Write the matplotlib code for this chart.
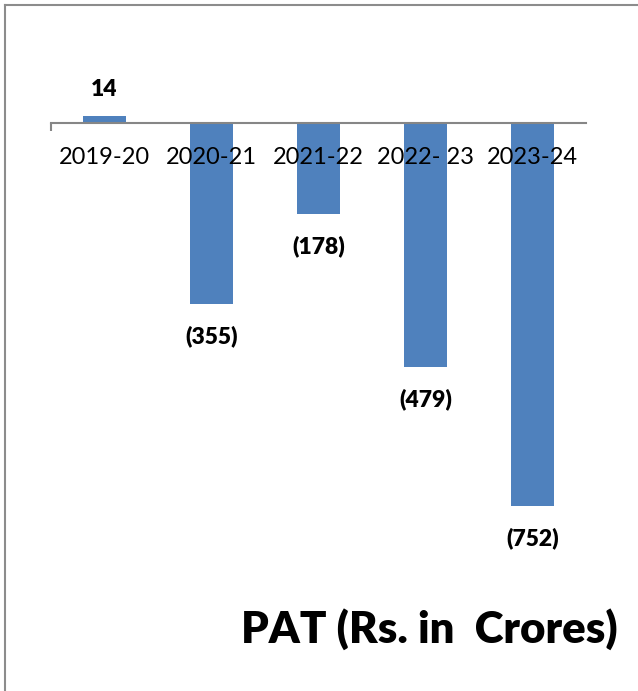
import matplotlib
matplotlib.use("Agg")
import matplotlib.pyplot as plt
from matplotlib.lines import Line2D

years = ["2019-20", "2020-21", "2021-22", "2022- 23", "2023-24"]
pat = [14, -355, -178, -479, -752]
labels = ["14", "(355)", "(178)", "(479)", "(752)"]

plt.rcParams["font.family"] = ["Lato", "DejaVu Sans"]

W, H = 638, 691
fig = plt.figure(figsize=(W / 100, H / 100), dpi=100)

# axes placed in pixel terms: x 51..586, y 30..560 (top-down)
ax = fig.add_axes([51 / W, 1 - 560 / H, 535 / W, 530 / H])
ax.bar(range(len(years)), pat, width=0.4, color="#4F81BD", zorder=1)
ax.set_axisbelow(False)

scale = 0.509  # px per unit
ax.set_ylim(-(560 - 123) / scale, (123 - 30) / scale)
ax.set_xlim(-0.5, len(years) - 0.5)

for s in ["left", "right", "top"]:
    ax.spines[s].set_visible(False)
ax.spines["bottom"].set_position(("data", 0))
ax.spines["bottom"].set_color("#868686")
ax.spines["bottom"].set_linewidth(1.5)
ax.spines["bottom"].set_zorder(3)

ax.set_yticks([])
ax.set_xticks(range(len(years)))
ax.set_xticklabels(years, fontsize=17)
ax.tick_params(axis="x", which="major", length=0, pad=17)
ax.set_xticks([-0.5], minor=True)
ax.tick_params(axis="x", which="minor", length=6, width=1.5, color="#868686", direction="out")

for i, (v, t) in enumerate(zip(pat, labels)):
    off = 19 if v > 0 else -23.5
    ax.annotate(t, (i, v), xytext=(0, off), textcoords="offset points",
                ha="center", va="center", fontsize=16.5, fontweight="heavy")

fig.text(618 / W, 1 - 629 / H, "PAT (Rs. in  Crores)", ha="right", va="center",
         fontsize=31.5, fontweight="heavy")

# outer frame (left and top edges)
fig.add_artist(Line2D([4.5 / W, 4.5 / W], [0, 1 - 4.5 / H], color="#8c8c8c", lw=1.5))
fig.add_artist(Line2D([4.5 / W, 1], [1 - 4.5 / H, 1 - 4.5 / H], color="#8c8c8c", lw=1.5))

fig.savefig("out.png", dpi=100)
